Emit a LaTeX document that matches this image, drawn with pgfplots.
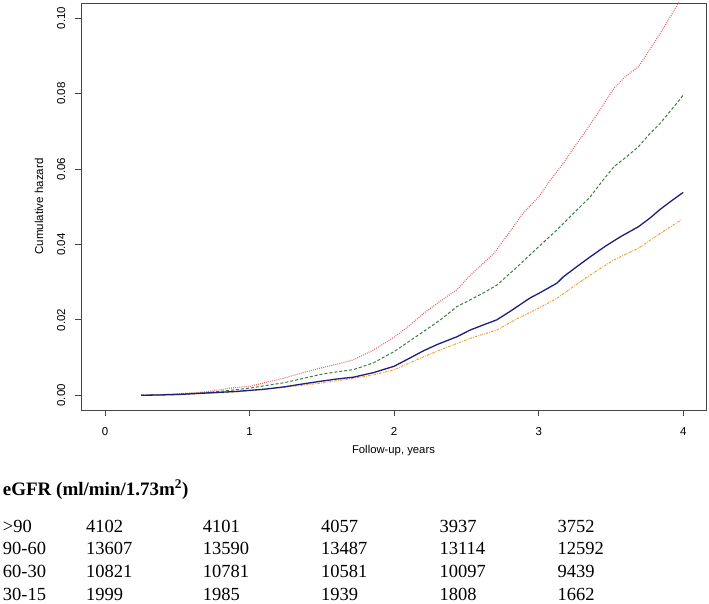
\documentclass[border=0pt]{standalone}
\usepackage{pgfplots}
\pgfplotsset{compat=1.18}
\usepackage{fontspec}
\setmainfont{Liberation Serif}
\newfontfamily\arialfont{Liberation Sans}
\definecolor{cred}{RGB}{232,96,106}
\definecolor{cgreen}{RGB}{58,125,68}
\definecolor{cblue}{RGB}{31,31,122}
\definecolor{corange}{RGB}{240,160,64}
\definecolor{frame}{RGB}{70,70,70}
\begin{document}
\begin{tikzpicture}
\useasboundingbox (0,0) rectangle (709bp,604bp);
\begin{axis}[
  at={(81bp,194bp)}, anchor=south west,
  scale only axis, width=625bp, height=407bp,
  xmin=-0.166, xmax=4.157, ymin=-0.0039, ymax=0.104,
  axis line style={frame, line width=0.9bp},
  xtick={0,1,2,3,4}, xticklabels={0,1,2,3,4},
  ytick={0,0.02,0.04,0.06,0.08,0.10},
  yticklabels={0.00,0.02,0.04,0.06,0.08,0.10},
  xtick pos=bottom, ytick pos=left,
  tick align=outside, major tick length=6.5bp,
  tick style={frame, line width=0.9bp},
  xticklabel style={font=\arialfont\fontsize{11.5bp}{13bp}\selectfont, anchor=north, inner sep=0pt},
  yticklabel style={font=\arialfont\fontsize{11.5bp}{13bp}\selectfont, rotate=90, anchor=south, inner sep=0pt},
  xticklabel shift=10.5bp, yticklabel shift=9bp,
  xlabel={Follow-up, years}, ylabel={Cumulative hazard},
  xlabel style={font=\arialfont\fontsize{11.3bp}{13bp}\selectfont, at={(axis description cs:0.5,-0.1007)}, anchor=center},
  ylabel style={font=\arialfont\fontsize{11.5bp}{13bp}\selectfont, at={(axis description cs:-0.0672,0.5)}, anchor=center},
  clip=true,
]
\addplot[cred, line width=1.1bp, dash pattern=on 0.9bp off 1.2bp] table {
0.25 0
0.5 0.0004
0.7 0.0009
0.865 0.0019
1.0 0.0024
1.1 0.0033
1.234 0.0045
1.35 0.0058
1.488 0.0072
1.6 0.0082
1.718 0.0094
1.857 0.0120
2.0 0.0154
2.1 0.0183
2.203 0.0217
2.32 0.0250
2.433 0.0279
2.526 0.0318
2.69 0.0376
2.79 0.0428
2.89 0.0482
3.0 0.0526
3.08 0.0570
3.17 0.0615
3.25 0.0660
3.33 0.0703
3.43 0.0760
3.52 0.0814
3.6 0.0845
3.69 0.0871
3.76 0.0912
3.84 0.0959
3.92 0.1010
4.0 0.1060
};
\addplot[cgreen, line width=1bp, dash pattern=on 3bp off 2bp] table {
0.25 0
0.5 0.0003
0.7 0.0007
0.865 0.0013
1.0 0.0019
1.234 0.0033
1.35 0.0043
1.488 0.0055
1.6 0.0062
1.718 0.0068
1.857 0.0086
2.0 0.0116
2.1 0.0142
2.203 0.0169
2.32 0.0200
2.433 0.0235
2.526 0.0253
2.62 0.0272
2.71 0.0292
2.85 0.0340
3.0 0.0394
3.125 0.0438
3.24 0.0482
3.356 0.0526
3.44 0.0568
3.52 0.0606
3.6 0.0630
3.69 0.0659
3.76 0.0690
3.84 0.0721
3.92 0.0758
4.0 0.0796
};
\addplot[corange, line width=1bp, dash pattern=on 2.5bp off 1.2bp on 0.8bp off 1.2bp] table {
0.25 0
0.5 0.0002
0.7 0.0005
0.9 0.0009
1.0 0.0012
1.234 0.0021
1.488 0.0032
1.718 0.0045
1.857 0.0054
2.0 0.0068
2.203 0.0102
2.35 0.0125
2.526 0.0151
2.71 0.0173
2.85 0.0203
3.0 0.0231
3.125 0.0257
3.24 0.0288
3.356 0.0319
3.52 0.0359
3.69 0.0390
3.84 0.0429
3.99 0.0466
};
\addplot[cblue, line width=1.3bp] table {
0.25 0
0.4 0.0001
0.5 0.0002
0.6 0.0004
0.7 0.0006
0.8 0.0008
0.9 0.0010
1.0 0.0013
1.1 0.0016
1.234 0.0022
1.35 0.0029
1.488 0.0037
1.6 0.0043
1.718 0.0048
1.857 0.0060
2.0 0.0077
2.1 0.0097
2.203 0.0118
2.3 0.0135
2.433 0.0155
2.526 0.0173
2.62 0.0187
2.71 0.0200
2.8 0.0222
2.94 0.0258
3.0 0.0270
3.125 0.0297
3.17 0.0314
3.26 0.0340
3.356 0.0367
3.46 0.0395
3.564 0.0420
3.69 0.0447
3.77 0.0470
3.84 0.0493
3.92 0.0516
4.0 0.0538
};
\end{axis}
\newcommand{\tf}[1]{\fontsize{18.5bp}{20bp}\selectfont #1}
\node[anchor=base west, inner sep=0pt] at (2.7bp,108.3bp) {\fontsize{19bp}{21bp}\selectfont\bfseries eGFR (ml/min/1.73m\textsuperscript{2})};
\foreach \y/\a/\b/\c/\d/\e/\f in {71.7/>90/4102/4101/4057/3937/3752, 49/90-60/13607/13590/13487/13114/12592, 26.3/60-30/10821/10781/10581/10097/9439, 4/30-15/1999/1985/1939/1808/1662}{
  \node[anchor=base west, inner sep=0pt] at (2.7bp,\y bp) {\tf{\a}};
  \node[anchor=base west, inner sep=0pt] at (86bp,\y bp) {\tf{\b}};
  \node[anchor=base west, inner sep=0pt] at (202.7bp,\y bp) {\tf{\c}};
  \node[anchor=base west, inner sep=0pt] at (321bp,\y bp) {\tf{\d}};
  \node[anchor=base west, inner sep=0pt] at (439.3bp,\y bp) {\tf{\e}};
  \node[anchor=base west, inner sep=0pt] at (557.3bp,\y bp) {\tf{\f}};
}
\end{tikzpicture}
\end{document}
